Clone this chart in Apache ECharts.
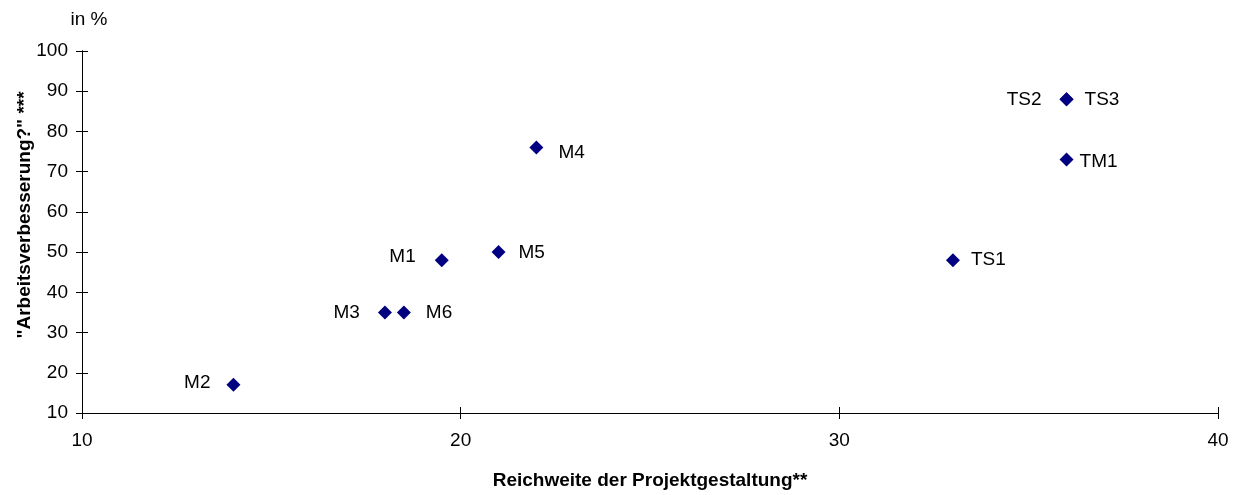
<!DOCTYPE html>
<html>
<head>
<meta charset="utf-8">
<script src="https://cdn.jsdelivr.net/npm/echarts@6/dist/echarts.min.js"></script>
<style>
  html, body { margin: 0; padding: 0; background: #fff; }
  #chart { width: 1239px; height: 495px; }
</style>
</head>
<body>
<div id="chart"></div>
<script>
// projects: name, reach of project design (x), "Arbeitsverbesserung?" in % (y)
const projectNames = ['M1', 'M2', 'M3', 'M4', 'M5', 'M6', 'TS1', 'TS2', 'TS3', 'TM1'];
const reachValues = [19.5, 14, 18, 22, 21, 18.5, 33, 36, 36, 36];
const improvementValues = [48, 17, 35, 76, 50, 35, 48, 88, 88, 73];

const xTicks = [10, 20, 30, 40];
const yTicks = [10, 20, 30, 40, 50, 60, 70, 80, 90, 100];

const font = 'Arial, "Liberation Sans", sans-serif';

// label placement, copied by eye from the original
const labelPlace = {
  M1: ['left', 19, -3], M2: ['left', 16, -2], M3: ['left', 18, 0],
  M4: ['right', 15, 5], M5: ['right', 13, 1], M6: ['right', 15, 0],
  TS1: ['right', 11, 0], TS2: ['left', 18, 0], TS3: ['right', 11, 0],
  TM1: ['right', 6, 2]
};

const chart = echarts.init(document.getElementById('chart'));

const points = projectNames.map((name, i) => {
  const p = labelPlace[name];
  return {
    name: name,
    value: [reachValues[i], improvementValues[i]],
    label: { position: p[0], distance: p[1], offset: [0, p[2]] }
  };
});

// second grid on top of the first one only carries the inner half of the ticks
const gridBox = { left: 82, right: 21, top: 51, bottom: 82, containLabel: false };

const baseX = {
  type: 'value',
  min: xTicks[0],
  max: xTicks[xTicks.length - 1],
  interval: 10,
  position: 'bottom',
  splitLine: { show: false },
  axisLine: { show: true, onZero: false, lineStyle: { color: '#000', width: 1 } }
};
const baseY = {
  type: 'value',
  min: yTicks[0],
  max: yTicks[yTicks.length - 1],
  interval: 10,
  position: 'left',
  splitLine: { show: false },
  axisLine: { show: true, onZero: false, lineStyle: { color: '#000', width: 1 } }
};

const option = {
  backgroundColor: '#fff',
  animation: false,
  grid: [gridBox, Object.assign({}, gridBox)],
  xAxis: [
    Object.assign({}, baseX, {
      gridIndex: 0,
      axisTick: { show: true, length: 6, lineStyle: { color: '#000' } },
      axisLabel: { color: '#000', fontSize: 19, fontFamily: font, margin: 18 },
      name: 'Reichweite der Projektgestaltung**',
      nameLocation: 'middle',
      nameGap: 58,
      nameTextStyle: { color: '#000', fontSize: 19, fontWeight: 'bold', fontFamily: font }
    }),
    Object.assign({}, baseX, {
      gridIndex: 1,
      axisTick: { show: true, inside: true, length: 6, lineStyle: { color: '#000' } },
      axisLabel: { show: false }
    })
  ],
  yAxis: [
    Object.assign({}, baseY, {
      gridIndex: 0,
      axisTick: { show: true, length: 6, lineStyle: { color: '#000' } },
      axisLabel: { color: '#000', fontSize: 19, fontFamily: font, margin: 14 },
      name: 'in %',
      nameLocation: 'end',
      nameGap: 22,
      nameTextStyle: { color: '#000', fontSize: 19, fontFamily: font, padding: [0, 0, 0, 14] }
    }),
    Object.assign({}, baseY, {
      gridIndex: 1,
      axisTick: { show: true, inside: true, length: 6, lineStyle: { color: '#000' } },
      axisLabel: { show: false },
      name: '"Arbeitsverbesserung?" ***',
      nameLocation: 'middle',
      nameGap: 48,
      nameTextStyle: {
        color: '#000', fontSize: 19, fontWeight: 'bold', fontFamily: font,
        padding: [0, 0, 0, 34]
      }
    })
  ],
  series: [
    {
      type: 'scatter',
      xAxisIndex: 0,
      yAxisIndex: 0,
      symbol: 'diamond',
      symbolSize: 14,
      itemStyle: { color: '#000080', opacity: 1 },
      emphasis: { disabled: true },
      label: {
        show: true,
        formatter: '{b}',
        color: '#000',
        fontSize: 19,
        fontFamily: font
      },
      data: points
    }
  ]
};

chart.setOption(option);
window.addEventListener('resize', function () {
  chart.resize();
});
</script>
</body>
</html>
